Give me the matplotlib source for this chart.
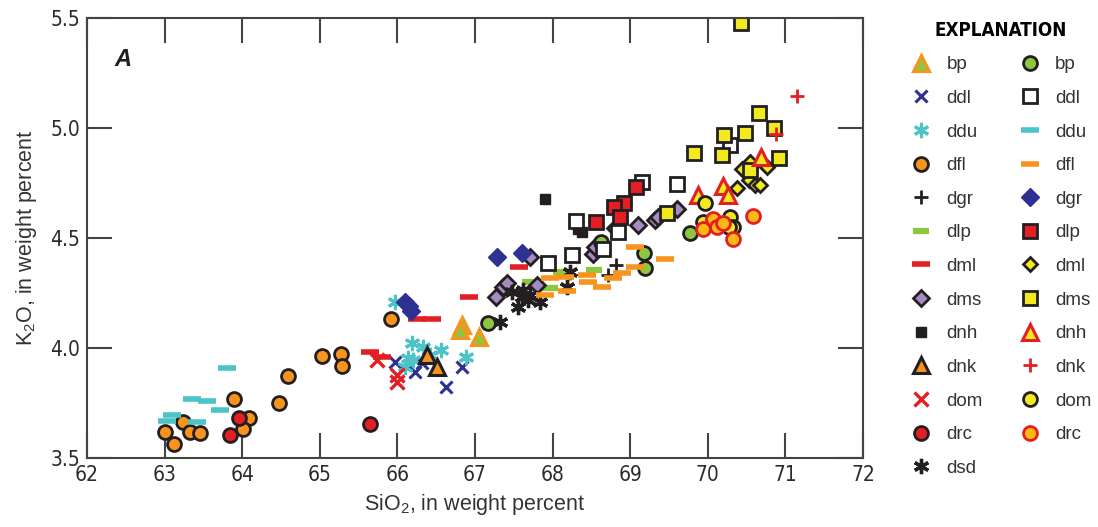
import matplotlib
matplotlib.use("Agg")
import matplotlib.pyplot as plt

plt.rcParams['font.family'] = ['Liberation Sans', 'DejaVu Sans']
plt.rcParams['mathtext.default'] = 'regular'

# colours
ORANGE = '#f7941d'
GREEN = '#8dc63f'
BLUE = '#2e3192'
CYAN = '#4cc3c7'
RED = '#e31e24'
PURPLE = '#a48bc0'
YELLOW = '#f2ea1d'
GOLD = '#fdb913'
BLACK = '#231f20'

# ---- data (SiO2, K2O) ----
bp_tri_x = [66.83, 66.81, 67.05]
bp_tri_y = [4.105, 4.08, 4.05]
ddl_x_x = [65.97, 66.23, 66.32, 66.63, 66.83]
ddl_x_y = [3.936, 3.891, 3.93, 3.823, 3.914]
ddu_ast_x = [65.97, 66.19, 66.33, 66.56, 66.14, 66.20, 66.10, 66.42, 66.88]
ddu_ast_y = [4.209, 4.023, 4.005, 3.991, 3.955, 3.945, 3.914, 3.968, 3.959]
dfl_cir_x = [63.00, 63.12, 63.24, 63.33, 63.46, 63.89, 64.09, 64.01, 64.47, 64.59,
             65.03, 65.27, 65.29, 65.92]
dfl_cir_y = [3.618, 3.564, 3.664, 3.618, 3.614, 3.768, 3.682, 3.632, 3.75, 3.873,
             3.964, 3.973, 3.918, 4.132]
dgr_plus_x = [68.82, 68.71]
dgr_plus_y = [4.377, 4.332]
dlp_dash_x = [68.11, 67.97, 68.53, 67.71]
dlp_dash_y = [4.345, 4.273, 4.355, 4.30]
dml_dash_x = [65.65, 65.80, 66.25, 66.45, 66.92, 67.57]
dml_dash_y = [3.98, 3.96, 4.13, 4.13, 4.232, 4.368]
dms_dia_x = [67.27, 67.36, 67.41, 67.71, 67.80, 68.52, 68.55, 68.80, 69.10, 69.32,
             69.36, 69.60]
dms_dia_y = [4.232, 4.277, 4.295, 4.414, 4.286, 4.427, 4.459, 4.545, 4.559, 4.582,
             4.595, 4.632]
dnh_sq_x = [67.90, 68.33, 68.38]
dnh_sq_y = [4.677, 4.54, 4.525]
dnk_tri_x = [66.38, 66.51]
dnk_tri_y = [3.968, 3.914]
dom_x_x = [65.74, 65.99, 65.99]
dom_x_y = [3.945, 3.877, 3.845]
drc_cir_x = [63.96, 63.84, 65.65]
drc_cir_y = [3.682, 3.605, 3.655]
dsd_x = [67.32, 67.55, 67.48, 67.62, 67.71, 67.84, 67.68, 68.18, 68.22, 67.60]
dsd_y = [4.118, 4.186, 4.255, 4.264, 4.24, 4.21, 4.218, 4.277, 4.345, 4.23]

bp_cir_x = [67.17, 68.62, 69.18, 69.19, 69.77]
bp_cir_y = [4.114, 4.482, 4.43, 4.364, 4.523]
ddl_sq_x = [68.30, 67.94, 68.25, 68.84, 68.65, 69.15, 69.60, 70.29]
ddl_sq_y = [4.577, 4.386, 4.423, 4.527, 4.45, 4.755, 4.745, 4.923]
ddu_dash_x = [63.03, 63.10, 63.35, 63.55, 63.71, 63.80, 63.42]
ddu_dash_y = [3.668, 3.695, 3.768, 3.759, 3.718, 3.909, 3.664]
dfl_dash_x = [67.97, 68.16, 67.90, 68.18, 68.44, 68.46, 68.64, 68.78, 68.89, 69.06,
              69.06, 69.45]
dfl_dash_y = [4.318, 4.323, 4.241, 4.259, 4.332, 4.30, 4.277, 4.318, 4.341, 4.459,
              4.368, 4.405]
dgr_dia_x = [66.10, 66.15, 66.17, 67.28, 67.61]
dgr_dia_y = [4.21, 4.19, 4.17, 4.414, 4.432]
dlp_sq_x = [68.56, 69.08, 68.92, 68.79, 68.87]
dlp_sq_y = [4.573, 4.732, 4.659, 4.641, 4.595]
dml_dia_x = [70.44, 70.54, 70.76, 70.53, 70.61, 70.67, 70.38]
dml_dia_y = [4.814, 4.845, 4.823, 4.764, 4.741, 4.741, 4.727]
dms_sq_x = [70.43, 69.82, 70.21, 70.18, 70.48, 70.66, 70.85, 70.92, 70.54, 69.47]
dms_sq_y = [5.477, 4.886, 4.968, 4.877, 4.977, 5.068, 5.0, 4.864, 4.809, 4.614]
dnh_tri_x = [70.69, 70.20, 70.26, 69.87]
dnh_tri_y = [4.868, 4.736, 4.695, 4.695]
dnk_plus_x = [71.15, 70.88]
dnk_plus_y = [5.145, 4.973]
dom_cir_x = [69.96, 69.94, 70.29, 70.33, 70.27]
dom_cir_y = [4.659, 4.573, 4.595, 4.55, 4.55]
drc_gold_x = [69.94, 70.07, 70.12, 70.20, 70.33, 70.58]
drc_gold_y = [4.541, 4.586, 4.55, 4.568, 4.495, 4.6]

x_ticks = list(range(62, 73))
y_ticks = [3.5, 4.0, 4.5, 5.0, 5.5]
y_ticklabels = ['3.5', '4.0', '4.5', '5.0', '5.5']

fig = plt.figure(figsize=(10.98, 5.27), dpi=100)
ax = fig.add_axes([0.0792, 0.131, 0.7068, 0.835])

AST = (6, 2, 0)
series = [
    # left column
    (bp_tri_x, bp_tri_y, 'bp', dict(marker='^', ms=11, mfc=GREEN, mec=ORANGE, mew=2.2)),
    (ddl_x_x, ddl_x_y, 'ddl', dict(marker='x', ms=9, mec=BLUE, mew=2.2)),
    (ddu_ast_x, ddu_ast_y, 'ddu', dict(marker=AST, ms=11, mec=CYAN, mew=2.2)),
    (dfl_cir_x, dfl_cir_y, 'dfl', dict(marker='o', ms=10, mfc=ORANGE, mec=BLACK, mew=2)),
    (dgr_plus_x, dgr_plus_y, 'dgr', dict(marker='+', ms=10, mec=BLACK, mew=2)),
    (dlp_dash_x, dlp_dash_y, 'dlp', dict(marker='_', ms=12, mec=GREEN, mew=4.5)),
    (dml_dash_x, dml_dash_y, 'dml', dict(marker='_', ms=13, mec=RED, mew=4)),
    (dms_dia_x, dms_dia_y, 'dms', dict(marker='D', ms=8, mfc=PURPLE, mec=BLACK, mew=2)),
    (dnh_sq_x, dnh_sq_y, 'dnh', dict(marker='s', ms=7, mfc=BLACK, mec=BLACK, mew=1)),
    (dnk_tri_x, dnk_tri_y, 'dnk', dict(marker='^', ms=11, mfc=ORANGE, mec=BLACK, mew=2.2)),
    (dom_x_x, dom_x_y, 'dom', dict(marker='x', ms=10, mec=RED, mew=2.4)),
    (drc_cir_x, drc_cir_y, 'drc', dict(marker='o', ms=10, mfc=RED, mec=BLACK, mew=2)),
    (dsd_x, dsd_y, 'dsd', dict(marker=AST, ms=11, mec=BLACK, mew=2.4)),
    # right column
    (bp_cir_x, bp_cir_y, 'bp', dict(marker='o', ms=10, mfc=GREEN, mec=BLACK, mew=2)),
    (ddl_sq_x, ddl_sq_y, 'ddl', dict(marker='s', ms=10, mfc='white', mec=BLACK, mew=2)),
    (ddu_dash_x, ddu_dash_y, 'ddu', dict(marker='_', ms=13, mec=CYAN, mew=4)),
    (dfl_dash_x, dfl_dash_y, 'dfl', dict(marker='_', ms=13, mec=ORANGE, mew=4)),
    (dgr_dia_x, dgr_dia_y, 'dgr', dict(marker='D', ms=9, mfc=BLUE, mec=BLUE, mew=1)),
    (dlp_sq_x, dlp_sq_y, 'dlp', dict(marker='s', ms=10, mfc=RED, mec=BLACK, mew=2)),
    (dml_dia_x, dml_dia_y, 'dml', dict(marker='D', ms=7, mfc=YELLOW, mec=BLACK, mew=2)),
    (dms_sq_x, dms_sq_y, 'dms', dict(marker='s', ms=10, mfc=YELLOW, mec=BLACK, mew=2)),
    (dnh_tri_x, dnh_tri_y, 'dnh', dict(marker='^', ms=11, mfc=YELLOW, mec=RED, mew=2.2)),
    (dnk_plus_x, dnk_plus_y, 'dnk', dict(marker='+', ms=10, mec=RED, mew=2)),
    (dom_cir_x, dom_cir_y, 'dom', dict(marker='o', ms=10, mfc=YELLOW, mec=BLACK, mew=2)),
    (drc_gold_x, drc_gold_y, 'drc', dict(marker='o', ms=10, mfc=GOLD, mec=RED, mew=2)),
]

handles = []
for xs, ys, lab, st in series:
    h, = ax.plot(xs, ys, linestyle='none', label=lab, **st)
    handles.append(h)

ax.set_xlim(62, 72)
ax.set_ylim(3.5, 5.5)
tick_font = dict(fontfamily='DejaVu Sans', fontstretch='condensed', fontsize=15,
                 color='#2b2b2b')
ax.set_xticks(x_ticks, labels=[str(v) for v in x_ticks], **tick_font)
ax.set_yticks(y_ticks, labels=y_ticklabels, **tick_font)
ax.tick_params(direction='in', length=18, width=1.5, color='#444444',
               top=True, right=True, pad=5)
for s in ax.spines.values():
    s.set_color('#444444')
    s.set_linewidth(1.5)

ax.set_xlabel('SiO$_2$, in weight percent', fontsize=15.5, color='#333333', labelpad=5)
ax.set_ylabel('K$_2$O, in weight percent', fontsize=15.5, color='#333333', labelpad=8)
ax.text(0.035, 0.905, 'A', transform=ax.transAxes, fontsize=17, fontweight='bold',
        fontstyle='italic', color=BLACK, va='center')

leg = fig.legend(handles=handles, ncol=2, loc='upper left', bbox_to_anchor=(0.822, 0.975),
                 frameon=False, prop={'family': 'Liberation Sans', 'size': 13.5},
                 title='EXPLANATION',
                 title_fontproperties={'family': 'DejaVu Sans', 'stretch': 'condensed',
                                       'size': 13.5, 'weight': 'bold'},
                 handlelength=1.2, handletextpad=0.75, labelspacing=0.88,
                 columnspacing=1.9, borderaxespad=0)
for t in leg.get_texts():
    t.set_color('#333333')

fig.savefig('out.png', dpi=100)
